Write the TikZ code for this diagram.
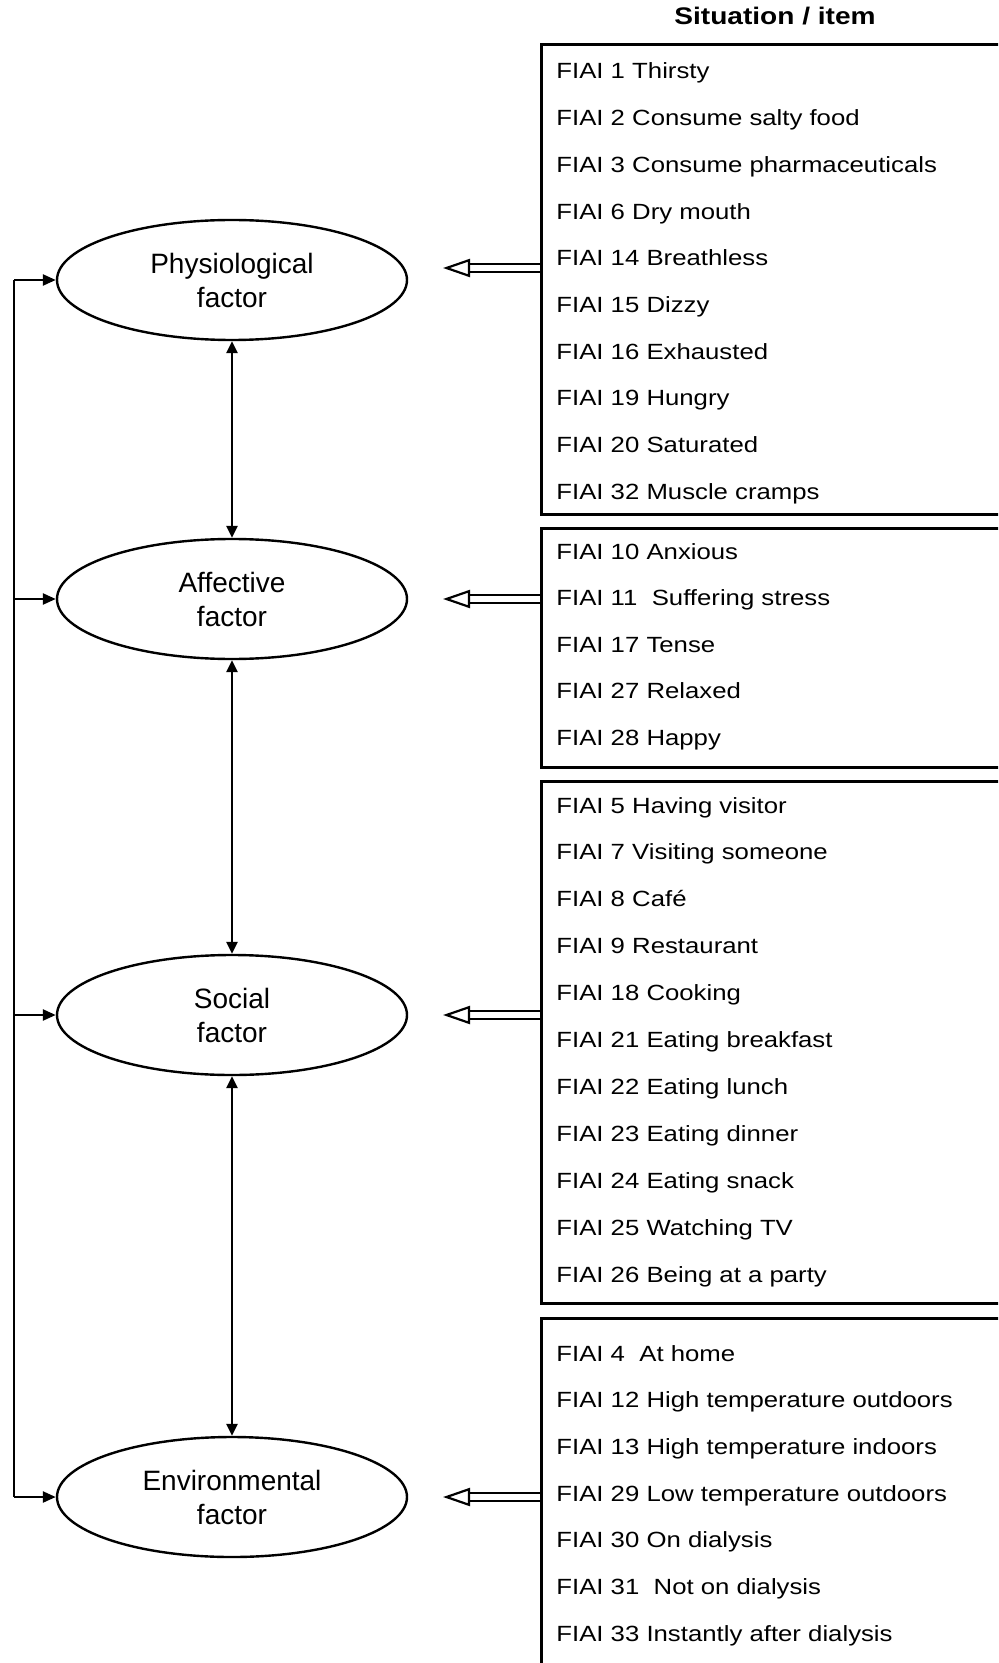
\documentclass[tikz,border=0pt]{standalone}
\usepackage{fontspec}
\setmainfont{Liberation Sans}
\newfontfamily\itemfont{Liberation Sans}[FakeStretch=1.17]
\usetikzlibrary{shapes.geometric,arrows.meta}

\begin{document}
\begin{tikzpicture}[x=0.5pt, y=-0.5pt,
  factor/.style={ellipse, draw, line width=1.2pt, minimum width=175pt, minimum height=60pt, inner sep=0pt, align=center, font=\fontsize{14}{17}\selectfont},
  itembox/.style={rectangle, draw, line width=1.5pt, anchor=north west, minimum width=232.5pt, inner sep=0pt},
  item/.style={anchor=base west, inner sep=0pt, font=\itemfont\fontsize{11}{13}\selectfont},
  link/.style={{Triangle[length=6pt,width=5.5pt]}-{Triangle[length=6pt,width=5.5pt]}, line width=1.2pt},
  feed/.style={-{Triangle[length=6.5pt,width=5.5pt]}, line width=1.2pt},
  load/.style={double, double distance=3pt, line width=1.1pt, -{Triangle[open, length=13.5pt, width=9pt]}}]
\useasboundingbox (0,0) rectangle (998,1663);
\clip (0,0) rectangle (998,1663);

% Factors (Left)
\node[factor] (phys) at (232,280) {Physiological\\factor};
\node[factor] (aff) at (232,599) {Affective\\factor};
\node[factor] (soc) at (232,1015) {Social\\factor};
\node[factor] (env) at (232,1497) {Environmental\\factor};

\draw[link] (phys.south) -- (aff.north);
\draw[link] (aff.south) -- (soc.north);
\draw[link] (soc.south) -- (env.north);

% Feedback line on the left
\coordinate (bus) at (14,0);
\draw[line width=1.2pt] (phys.west -| bus) -- (env.west -| bus);
\foreach \f in {phys,aff,soc,env}
  \draw[feed] (\f.west -| bus) -- (\f.west);

% Situation / item boxes (Right)
\node[anchor=base, font=\itemfont\bfseries\fontsize{12}{14}\selectfont] (title) at (775,25) {Situation / item};
\node[itembox, minimum height=235pt] (bphys) at (540,43) {};
\node[itembox, minimum height=119.5pt] (baff) at (540,527) {};
\node[itembox, minimum height=261pt] (bsoc) at (540,780) {};
\node[itembox, minimum height=181.5pt] (benv) at (540,1317) {};

\foreach \txt [count=\i] in {FIAI 1 Thirsty, FIAI 2 Consume salty food, FIAI 3 Consume pharmaceuticals, FIAI 6 Dry mouth, FIAI 14 Breathless, FIAI 15 Dizzy, FIAI 16 Exhausted, FIAI 19 Hungry, FIAI 20 Saturated, FIAI 32 Muscle cramps}
  \node[item] (p\i) at (556,{79+46.7*(\i-1)}) {\txt};
\foreach \txt [count=\i] in {FIAI 10 Anxious, FIAI 11~ Suffering stress, FIAI 17 Tense, FIAI 27 Relaxed, FIAI 28 Happy}
  \node[item] (a\i) at (556,{559+46.5*(\i-1)}) {\txt};
\foreach \txt [count=\i] in {FIAI 5 Having visitor, FIAI 7 Visiting someone, FIAI 8 Café, FIAI 9 Restaurant, FIAI 18 Cooking, FIAI 21 Eating breakfast, FIAI 22 Eating lunch, FIAI 23 Eating dinner, FIAI 24 Eating snack, FIAI 25 Watching TV, FIAI 26 Being at a party}
  \node[item] (s\i) at (556,{813+46.9*(\i-1)}) {\txt};
\foreach \txt [count=\i] in {FIAI 4~ At home, FIAI 12 High temperature outdoors, FIAI 13 High temperature indoors, FIAI 29 Low temperature outdoors, FIAI 30 On dialysis, FIAI 31~ Not on dialysis, FIAI 33 Instantly after dialysis}
  \node[item] (e\i) at (556,{1361+46.7*(\i-1)}) {\txt};

% Items load on factors
\coordinate (tipx) at (443,0);
\draw[load] ([yshift=6pt]phys.center -| bphys.west) -- ([yshift=6pt]phys.center -| tipx);
\draw[load] (aff -| baff.west) -- (aff -| tipx);
\draw[load] (soc -| bsoc.west) -- (soc -| tipx);
\draw[load] (env -| benv.west) -- (env -| tipx);
\end{tikzpicture}
\end{document}
